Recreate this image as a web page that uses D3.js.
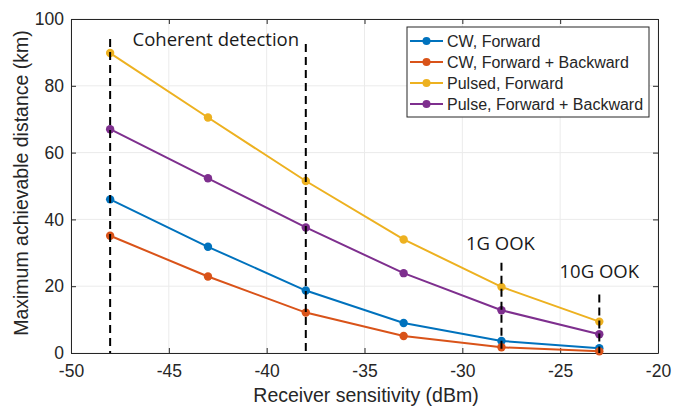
<!DOCTYPE html>
<html>
<head>
<meta charset="utf-8">
<script src="https://cdn.jsdelivr.net/npm/d3@7"></script>
<style>
  html, body { margin: 0; padding: 0; background: #fff; }
  svg { display: block; }
</style>
</head>
<body>
<svg id="chart" width="673" height="407"></svg>
<script>
// Receiver sensitivity (dBm) at which each distance was evaluated
const sensitivity = [-48, -43, -38, -33, -28, -23];

// Maximum achievable distance (km) for each configuration
const cwForward = [46.0, 31.8, 18.7, 9.0, 3.6, 1.4];
const cwForwardBackward = [35.1, 22.9, 12.1, 5.1, 1.7, 0.5];
const pulsedForward = [89.8, 70.5, 51.5, 34.0, 19.8, 9.4];
const pulseForwardBackward = [67.0, 52.3, 37.6, 23.9, 12.8, 5.6];

const seriesNames = ["CW, Forward", "CW, Forward + Backward", "Pulsed, Forward", "Pulse, Forward + Backward"];
const seriesColors = ["#0072BD", "#D95319", "#EDB120", "#7E2F8E"];

const xTicks = [-50, -45, -40, -35, -30, -25, -20];
const yTicks = [0, 20, 40, 60, 80, 100];

// Dashed reference markers: sensitivity and the distance where each dash starts
const markerX = [-48, -38, -28, -23];
const markerTop = [94, 92.5, 27, 17.5];
const markerLabels = ["Coherent detection", "1G OOK", "10G OOK"];
const markerLabelPos = [[-42.6, 93.4], [-28.05, 32.4], [-23.0, 23.8]];

const svg = d3.select("#chart");
const plotLeft = 71, plotRight = 658, plotTop = 19, plotBottom = 353;

const x = d3.scaleLinear().domain([-50, -20]).range([plotLeft, plotRight]);
const y = d3.scaleLinear().domain([0, 100]).range([plotBottom, plotTop]);

// grid
const grid = svg.append("g");
grid.selectAll("line.gx").data(xTicks).join("line")
  .attr("x1", d => x(d)).attr("x2", d => x(d))
  .attr("y1", plotTop).attr("y2", plotBottom)
  .attr("stroke", "#ebebeb").attr("stroke-width", 1);
grid.selectAll("line.gy").data(yTicks).join("line")
  .attr("x1", plotLeft).attr("x2", plotRight)
  .attr("y1", d => y(d)).attr("y2", d => y(d))
  .attr("stroke", "#ebebeb").attr("stroke-width", 1);

// axes (MATLAB-style inward ticks, box on), plain hyphen minus signs
const axisColor = "#262626";
const fmt = d => String(d);
svg.append("g").attr("transform", `translate(0,${plotBottom})`)
  .call(d3.axisBottom(x).tickValues(xTicks).tickFormat(fmt).tickSizeInner(-5).tickSizeOuter(0).tickPadding(12));
svg.append("g").attr("transform", `translate(${plotLeft},0)`)
  .call(d3.axisLeft(y).tickValues(yTicks).tickFormat(fmt).tickSizeInner(-5).tickSizeOuter(0).tickPadding(7));
svg.append("g").attr("transform", `translate(0,${plotTop})`)
  .call(d3.axisTop(x).tickValues(xTicks).tickSizeInner(-5).tickSizeOuter(0).tickFormat(""));
svg.append("g").attr("transform", `translate(${plotRight},0)`)
  .call(d3.axisRight(y).tickValues(yTicks).tickSizeInner(-5).tickSizeOuter(0).tickFormat(""));
svg.selectAll(".domain").attr("stroke", axisColor);
svg.selectAll(".tick line").attr("stroke", axisColor);
svg.selectAll(".tick text")
  .attr("fill", axisColor)
  .attr("font-family", "Liberation Sans, Arial, sans-serif")
  .attr("font-size", 17.5);

// axis labels
svg.append("text")
  .attr("x", 366).attr("y", 402)
  .attr("text-anchor", "middle")
  .attr("font-family", "Liberation Sans, Arial, sans-serif")
  .attr("font-size", 19.5).attr("fill", axisColor)
  .text("Receiver sensitivity (dBm)");
svg.append("text")
  .attr("transform", `translate(28,${183}) rotate(-90)`)
  .attr("text-anchor", "middle")
  .attr("font-family", "Liberation Sans, Arial, sans-serif")
  .attr("font-size", 19.5).attr("fill", axisColor)
  .text("Maximum achievable distance (km)");

// data series
const allSeries = [cwForward, cwForwardBackward, pulsedForward, pulseForwardBackward];
const line = d3.line().x((d, i) => x(sensitivity[i])).y(d => y(d));
allSeries.forEach((vals, k) => {
  svg.append("path")
    .datum(vals)
    .attr("d", line)
    .attr("fill", "none")
    .attr("stroke", seriesColors[k])
    .attr("stroke-width", 2);
});
allSeries.forEach((vals, k) => {
  svg.append("g").selectAll("circle").data(vals).join("circle")
    .attr("cx", (d, i) => x(sensitivity[i]))
    .attr("cy", d => y(d))
    .attr("r", 4.2)
    .attr("fill", seriesColors[k]);
});

// dashed markers
svg.append("g").selectAll("line").data(markerX).join("line")
  .attr("x1", d => x(d)).attr("x2", d => x(d))
  .attr("y1", (d, i) => y(markerTop[i])).attr("y2", plotBottom)
  .attr("stroke", "#000").attr("stroke-width", 2)
  .attr("stroke-dasharray", "8,5");

svg.append("g").selectAll("text").data(markerLabels).join("text")
  .attr("x", (d, i) => x(markerLabelPos[i][0]))
  .attr("y", (d, i) => y(markerLabelPos[i][1]))
  .attr("text-anchor", "middle")
  .attr("dominant-baseline", "middle")
  .attr("font-family", "Open Sans, Noto Sans, sans-serif")
  .attr("font-size", 18.5).attr("fill", "#1a1a1a")
  .text(d => d);

// legend
const lg = svg.append("g");
lg.append("rect")
  .attr("x", 407).attr("y", 27).attr("width", 242).attr("height", 90)
  .attr("fill", "#fff").attr("stroke", "#262626").attr("stroke-width", 1);
seriesNames.forEach((name, k) => {
  const yy = 41 + k * 21;
  lg.append("line")
    .attr("x1", 410).attr("x2", 443).attr("y1", yy).attr("y2", yy)
    .attr("stroke", seriesColors[k]).attr("stroke-width", 2);
  lg.append("circle").attr("cx", 426.5).attr("cy", yy).attr("r", 4).attr("fill", seriesColors[k]);
  lg.append("text")
    .attr("x", 447).attr("y", yy)
    .attr("dominant-baseline", "central")
    .attr("font-family", "Liberation Sans, Arial, sans-serif")
    .attr("font-size", 16).attr("fill", axisColor)
    .text(name);
});
</script>
</body>
</html>
